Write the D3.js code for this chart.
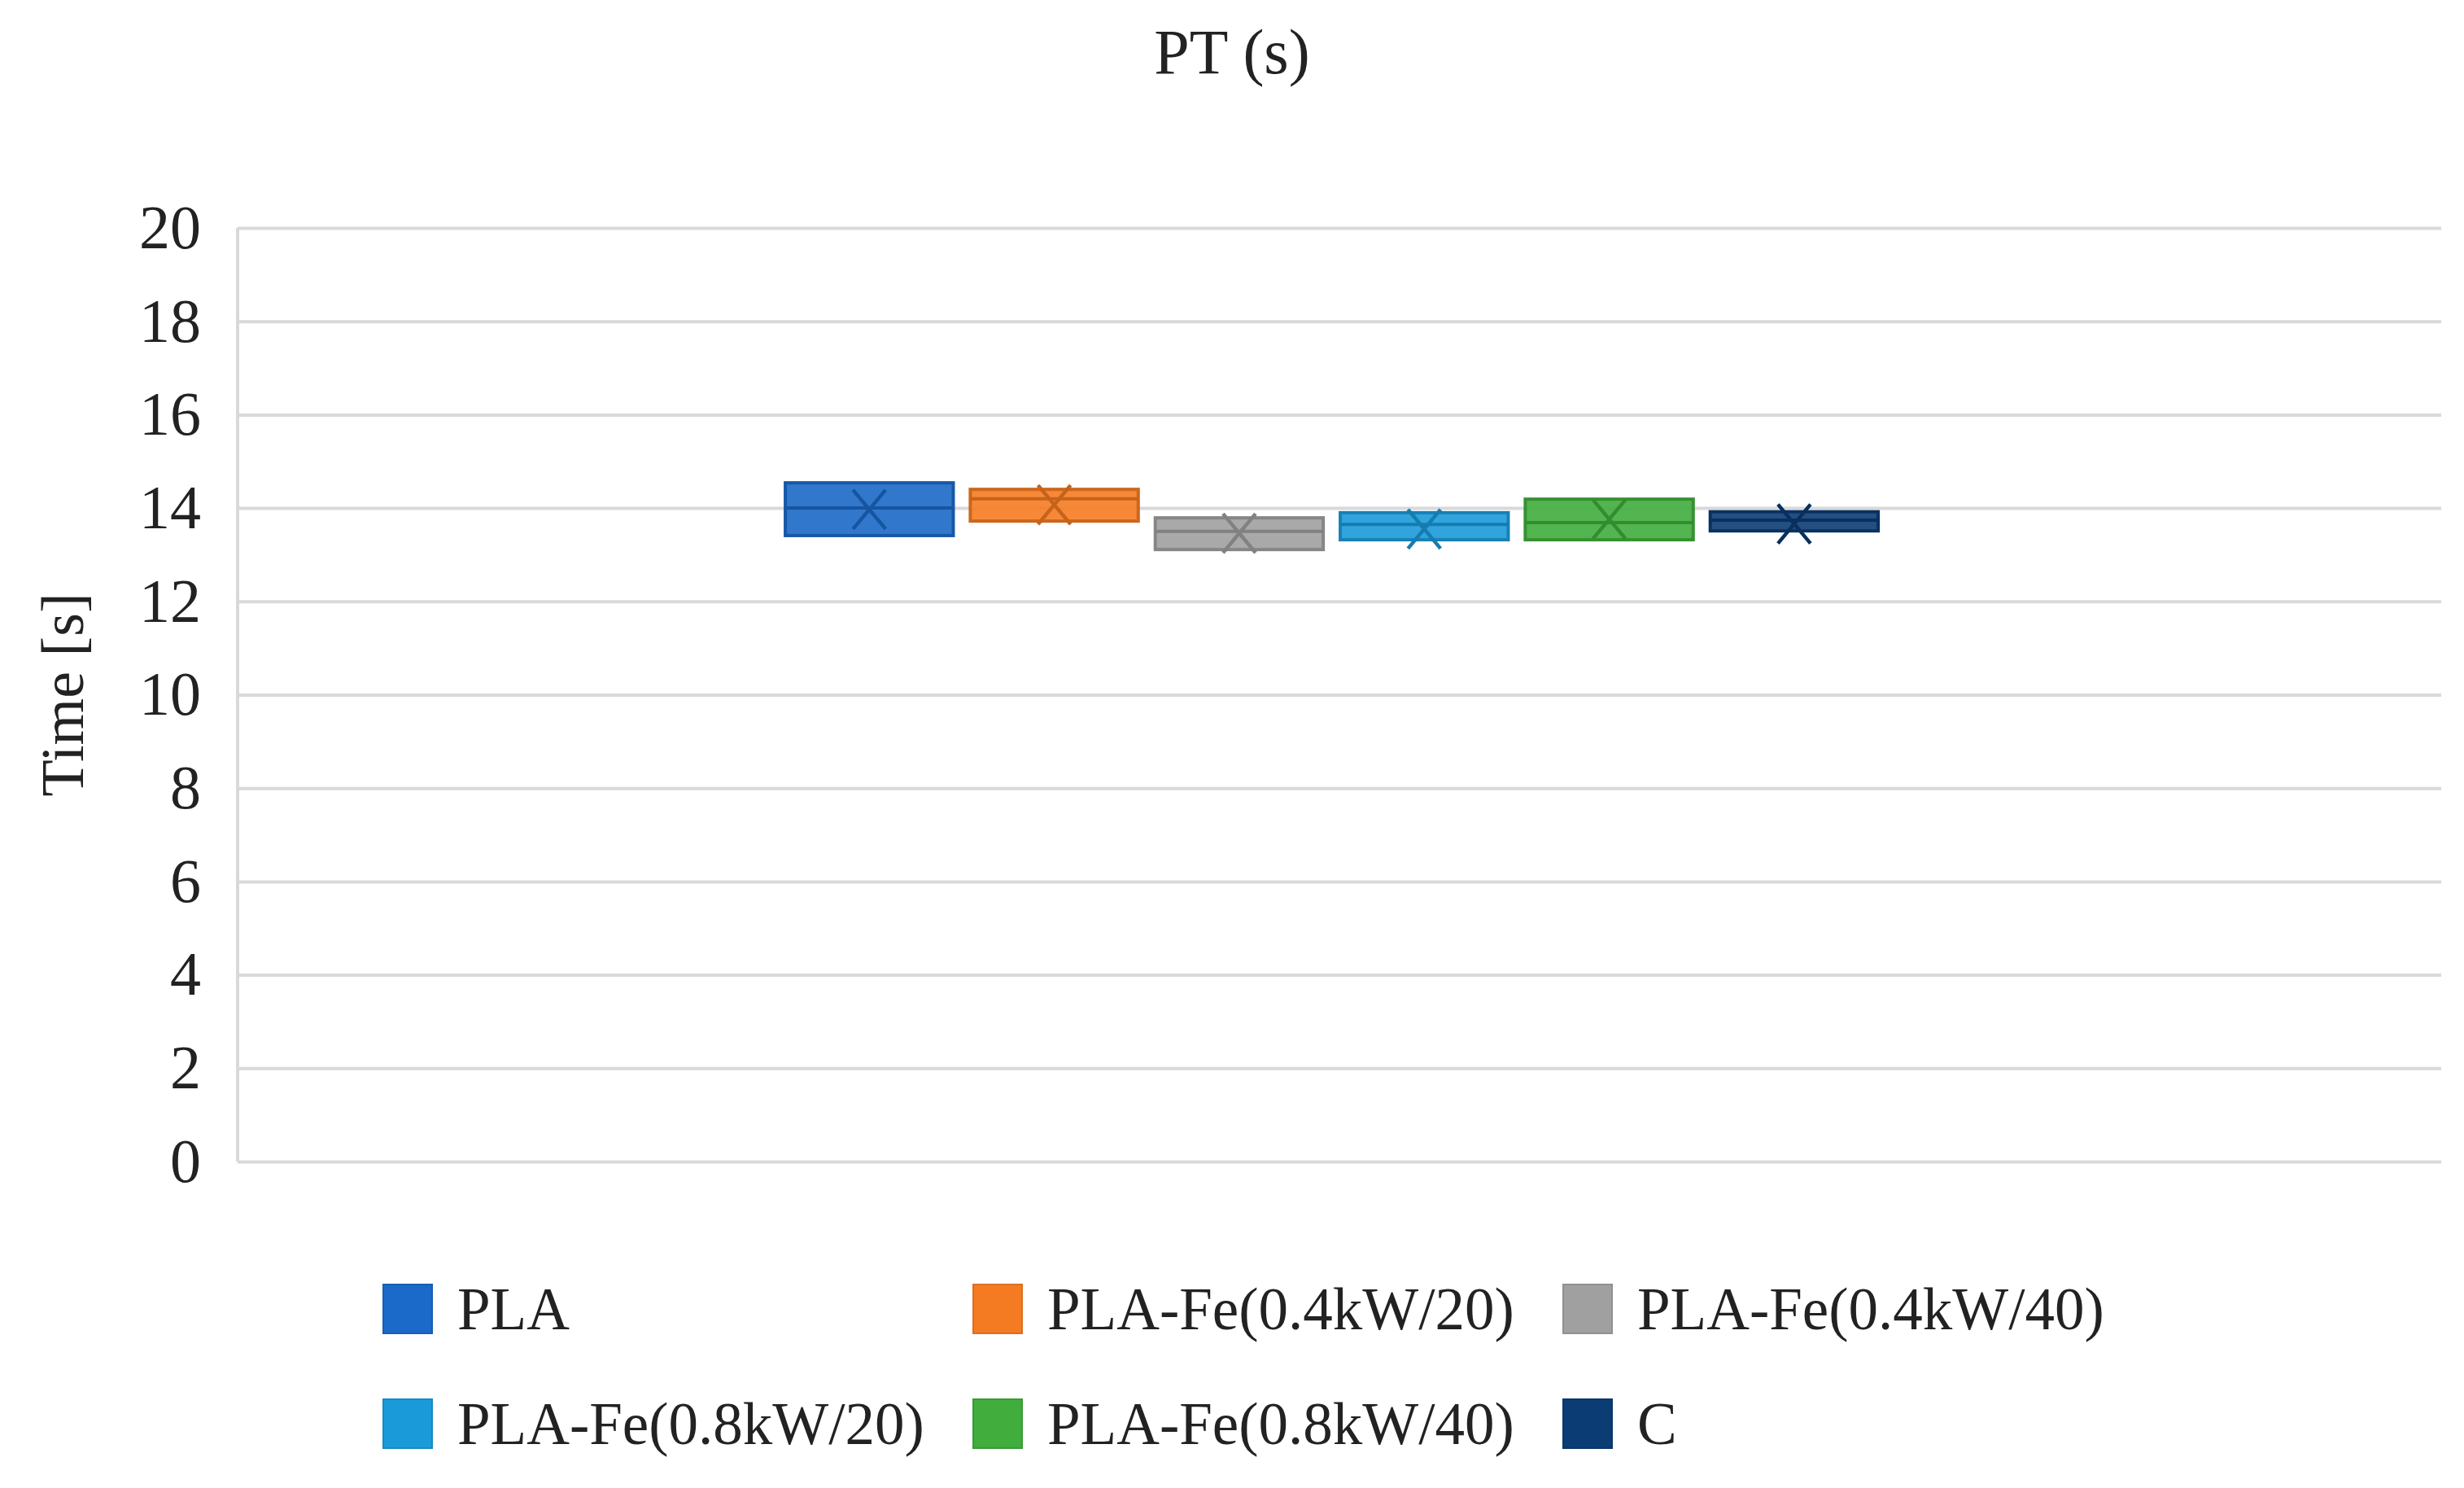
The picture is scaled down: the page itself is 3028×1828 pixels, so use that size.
<!DOCTYPE html>
<html>
<head>
<meta charset="utf-8">
<script src="https://cdn.jsdelivr.net/npm/d3@7"></script>
<style>
  html, body { margin: 0; padding: 0; background: #fff; }
  svg { display: block; }
  text { font-family: "Liberation Serif", "DejaVu Serif", serif; fill: #222; }
</style>
</head>
<body>
<div id="chart"></div>
<script>
// data
const series = ['PLA', 'PLA-Fe(0.4kW/20)', 'PLA-Fe(0.4kW/40)', 'PLA-Fe(0.8kW/20)', 'PLA-Fe(0.8kW/40)', 'C'];
const q1Values = [13.41, 13.72, 13.11, 13.32, 13.32, 13.51];
const medianValues = [14.0, 14.2, 13.5, 13.65, 13.69, 13.74];
const q3Values = [14.54, 14.40, 13.79, 13.90, 14.19, 13.92];
const meanValues = [13.97, 14.07, 13.46, 13.55, 13.76, 13.66];
const colors = ['#1b69c8', '#f57b22', '#a0a0a0', '#1b9ad9', '#40ad3c', '#0b3c74'];
const yTicks = [0, 2, 4, 6, 8, 10, 12, 14, 16, 18, 20];
const categories = [''];

const width = 3028, height = 1828;
const margin = { top: 280, right: 28, bottom: 401, left: 292 };

const svg = d3.select('#chart').append('svg')
	.attr('width', width)
	.attr('height', height);

const y = d3.scaleLinear()
	.domain([0, 20])
	.range([height - margin.bottom, margin.top]);

const x0 = d3.scaleBand()
	.domain(categories)
	.range([margin.left, width - margin.right])
	.paddingOuter(0.4927)
	.align(0.493);

const x1 = d3.scaleBand()
	.domain(series)
	.range([x0(''), x0('') + x0.bandwidth()])
	.paddingInner(0.092)
	.paddingOuter(0.046);

// title
svg.append('text')
	.attr('x', width / 2)
	.attr('y', 90)
	.attr('text-anchor', 'middle')
	.style('font-size', '78px')
	.text('PT (s)');

// gridlines + y axis
const yAxis = d3.axisLeft(y)
	.tickValues(yTicks)
	.tickSize(-(width - margin.right - margin.left))
	.tickPadding(45);

const $yAxis = svg.append('g')
	.attr('transform', `translate(${margin.left},0)`)
	.call(yAxis);

$yAxis.select('.domain').remove();
$yAxis.selectAll('line')
	.attr('stroke', '#d9d9d9')
	.attr('stroke-width', 4);
$yAxis.selectAll('text')
	.style('font-size', '76px')
	.style('font-family', '"Liberation Serif", serif')
	.attr('fill', '#222');

svg.append('line')
	.attr('x1', margin.left).attr('x2', margin.left)
	.attr('y1', y(20)).attr('y2', y(0))
	.attr('stroke', '#d9d9d9')
	.attr('stroke-width', 4);

// axis title
svg.append('text')
	.attr('transform', `translate(102,${(y(0) + y(20)) / 2}) rotate(-90)`)
	.attr('text-anchor', 'middle')
	.style('font-size', '74px')
	.text('Time [s]');

// boxes
const boxData = series.map((s, i) => ({
	name: s,
	q1: q1Values[i],
	median: medianValues[i],
	q3: q3Values[i],
	mean: meanValues[i],
	color: colors[i]
}));

const $boxes = svg.append('g').selectAll('g')
	.data(boxData)
	.enter()
	.append('g');

$boxes.append('rect')
	.attr('x', d => x1(d.name))
	.attr('width', x1.bandwidth())
	.attr('y', d => y(d.q3))
	.attr('height', d => y(d.q1) - y(d.q3))
	.attr('fill', d => d.color)
	.attr('fill-opacity', 0.9)
	.attr('stroke', d => d3.color(d.color).darker(0.5))
	.attr('stroke-width', 4);

$boxes.append('line')
	.attr('x1', d => x1(d.name))
	.attr('x2', d => x1(d.name) + x1.bandwidth())
	.attr('y1', d => y(d.median))
	.attr('y2', d => y(d.median))
	.attr('stroke', d => d3.color(d.color).darker(0.6))
	.attr('stroke-width', 4);

// mean markers
const mkW = 20, mkH = 24;
$boxes.append('path')
	.attr('d', d => {
		const cx = x1(d.name) + x1.bandwidth() / 2;
		const cy = y(d.mean);
		return `M${cx - mkW},${cy - mkH}L${cx + mkW},${cy + mkH}M${cx - mkW},${cy + mkH}L${cx + mkW},${cy - mkH}`;
	})
	.attr('fill', 'none')
	.attr('stroke', d => d3.color(d.color).darker(0.6))
	.attr('stroke-width', 4.5);

// legend
const legendCols = 3, colW = 725, rowH = 141;
const legendX = 471, legendY = 1578, sw = 60;

const $legend = svg.append('g').selectAll('g')
	.data(boxData)
	.enter()
	.append('g')
	.attr('transform', (d, i) => {
		const col = i % legendCols;
		const row = Math.floor(i / legendCols);
		return `translate(${legendX + col * colW},${legendY + row * rowH})`;
	});

$legend.append('rect')
	.attr('width', sw)
	.attr('height', sw)
	.attr('fill', d => d.color)
	.attr('stroke', d => d3.color(d.color).darker(0.3))
	.attr('stroke-width', 2);

$legend.append('text')
	.attr('x', 91)
	.attr('y', sw - 5)
	.style('font-size', '73px')
	.text(d => d.name);
</script>
</body>
</html>
